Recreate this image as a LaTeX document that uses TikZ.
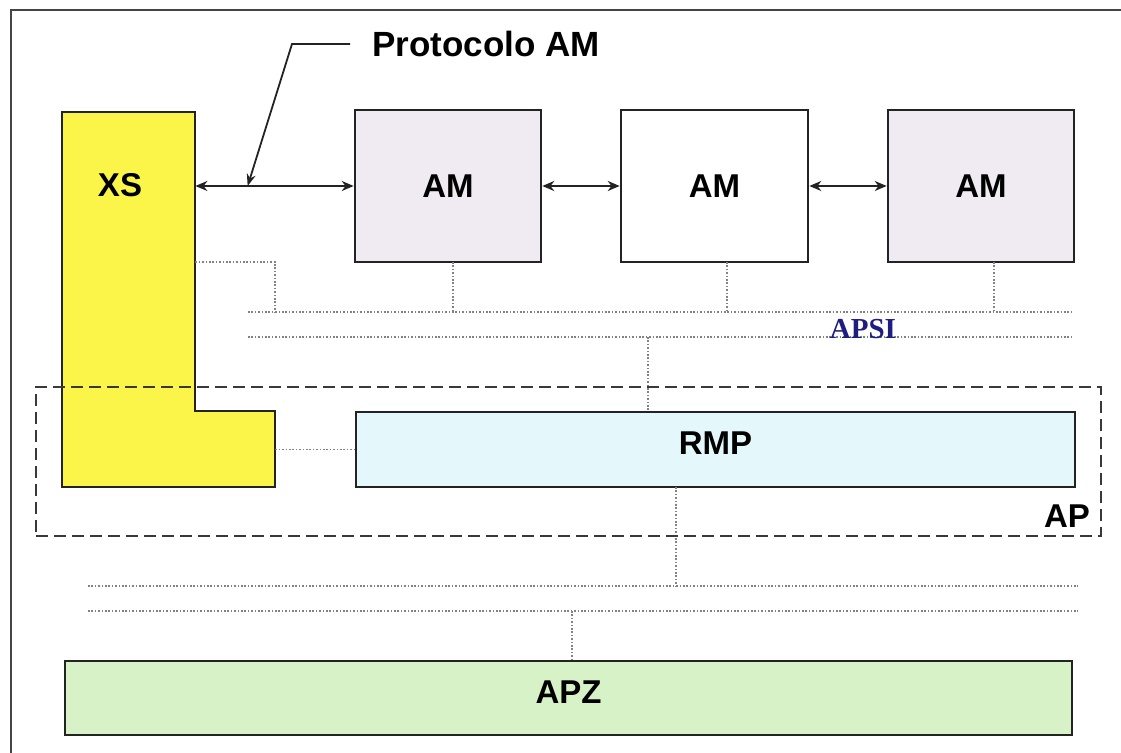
\documentclass[tikz,border=0pt]{standalone}
\usepackage{fontspec}
\setmainfont{Liberation Sans}
\newfontfamily\serifbold{Liberation Serif}
\usetikzlibrary{fit,arrows.meta}

\definecolor{xsyellow}{RGB}{250,245,72}
\definecolor{amlav}{RGB}{240,234,242}
\definecolor{rmpcyan}{RGB}{228,248,251}
\definecolor{apzgreen}{RGB}{214,242,198}
\definecolor{edge}{RGB}{35,35,35}
\definecolor{dotgray}{RGB}{130,130,130}
\definecolor{apsiblue}{RGB}{30,30,130}

\tikzset{
  blk/.style={draw=edge, line width=1.3pt, inner sep=0pt,
              font=\fontsize{16.5}{18}\selectfont\bfseries},
  link/.style={draw=edge, line width=1.1pt, {Stealth[length=6pt,width=5pt]}-{Stealth[length=6pt,width=5pt]}},
  lead/.style={draw=edge, line width=0.9pt, -{Stealth[length=6pt,width=4.5pt,open]}},
  bus/.style={draw=dotgray, line width=0.6pt, dash pattern=on 0.8pt off 0.9pt},
  apframe/.style={draw=edge!90, line width=1.4pt, dash pattern=on 6pt off 3pt, inner sep=0pt},
  lbl/.style={font=\fontsize{16.5}{18}\selectfont\bfseries, inner sep=0pt}
}

\begin{document}
\begin{tikzpicture}[x=0.5pt, y=-0.5pt]
  \useasboundingbox (0,0) rectangle (1121,753);

  % outer frame (only top and left edges fall inside the page)
  \draw[edge!85, line width=1pt] (11,770) -- (11,10) -- (1140,10);

  % XS block: L-shaped outline with two invisible reference nodes
  \fill[xsyellow] (62,112) -- (195,112) -- (195,411) -- (275,411) -- (275,487) -- (62,487) -- cycle;
  \draw[edge, line width=1.3pt] (62,112) -- (195,112) -- (195,411) -- (275,411) -- (275,487) -- (62,487) -- cycle;
  \node[fit={(62,112) (195,487)}, inner sep=0pt] (xs) {};
  \node[fit={(195,411) (275,487)}, inner sep=0pt] (xsfoot) {};
  \node[lbl] (xslabel) at (120,185) {XS};

  % application modules
  \node[blk, fill=amlav, fit={(355,110) (541,262)}] (am1) {};
  \node[blk, fill=white, fit={(621,110) (808,262)}] (am2) {};
  \node[blk, fill=amlav, fit={(888,110) (1074,262)}] (am3) {};
  \node[lbl] at (am1.center) {AM};
  \node[lbl] at (am2.center) {AM};
  \node[lbl] at (am3.center) {AM};

  % RMP and APZ layers
  \node[blk, fill=rmpcyan, fit={(356,412) (1075,487)}] (rmp) {};
  \node[lbl] at ([yshift=3pt]rmp.center) {RMP};
  \node[blk, fill=apzgreen, fit={(65,661) (1072,735)}] (apz) {};
  \node[lbl] at ([yshift=3pt]apz.center) {APZ};

  % AM protocol links
  \draw[link] (xs.east |- am1.west) -- coordinate[pos=0.33] (ptip) (am1.west);
  \draw[link] (am1.east) -- (am2.west);
  \draw[link] (am2.east) -- (am3.west);

  % protocol callout
  \node[font=\fontsize{17.5}{20}\selectfont\bfseries, anchor=west, inner xsep=11pt, inner ysep=0pt]
    (proto) at (350,44) {Protocolo AM};
  \coordinate (pbend) at (292,44);
  \draw[lead] (proto.west) -- (pbend) -- (ptip);

  % APSI bus lines
  \coordinate (apsiA1) at (248,312);
  \coordinate (apsiB1) at (1073,312);
  \coordinate (apsiA2) at (248,337);
  \coordinate (apsiB2) at (1073,337);
  \draw[bus] (apsiA1) -- (apsiB1);
  \draw[bus] (apsiA2) -- (apsiB2);
  \node[font=\serifbold\fontsize{14.5}{16}\selectfont\bfseries, text=apsiblue, inner sep=0pt]
    (apsi) at (863,329) {APSI};

  % drops from the modules to the APSI bus
  \coordinate (xsdrop) at (275,262);
  \draw[bus] (xsdrop -| xs.east) -- (xsdrop) -- (xsdrop |- apsiA1);
  \coordinate (am1drop) at (453,262);
  \coordinate (am2drop) at (727,262);
  \coordinate (am3drop) at (994,262);
  \draw[bus] (am1drop) -- (am1drop |- apsiA1);
  \draw[bus] (am2drop) -- (am2drop |- apsiA1);
  \draw[bus] (am3drop) -- (am3drop |- apsiA1);
  \coordinate (rmpup) at (648,337);
  \draw[bus] (rmpup) -- (rmpup |- rmp.north);

  % XS to RMP
  \draw[bus] (rmp.west -| xsfoot.east) -- (rmp.west);

  % lower bus lines
  \coordinate (lowA1) at (88,586);
  \coordinate (lowB1) at (1078,586);
  \coordinate (lowA2) at (88,611);
  \coordinate (lowB2) at (1078,611);
  \draw[bus] (lowA1) -- (lowB1);
  \draw[bus] (lowA2) -- (lowB2);
  \coordinate (rmpdown) at (676,487);
  \draw[bus] (rmpdown) -- (rmpdown |- lowA1);
  \coordinate (apzup) at (572,611);
  \draw[bus] (apzup) -- (apzup |- apz.north);

  % AP boundary
  \node[apframe, fit={(36,387) (1101,536)}] (ap) {};
  \node[lbl] (aplabel) at (1067,516) {AP};
\end{tikzpicture}
\end{document}
